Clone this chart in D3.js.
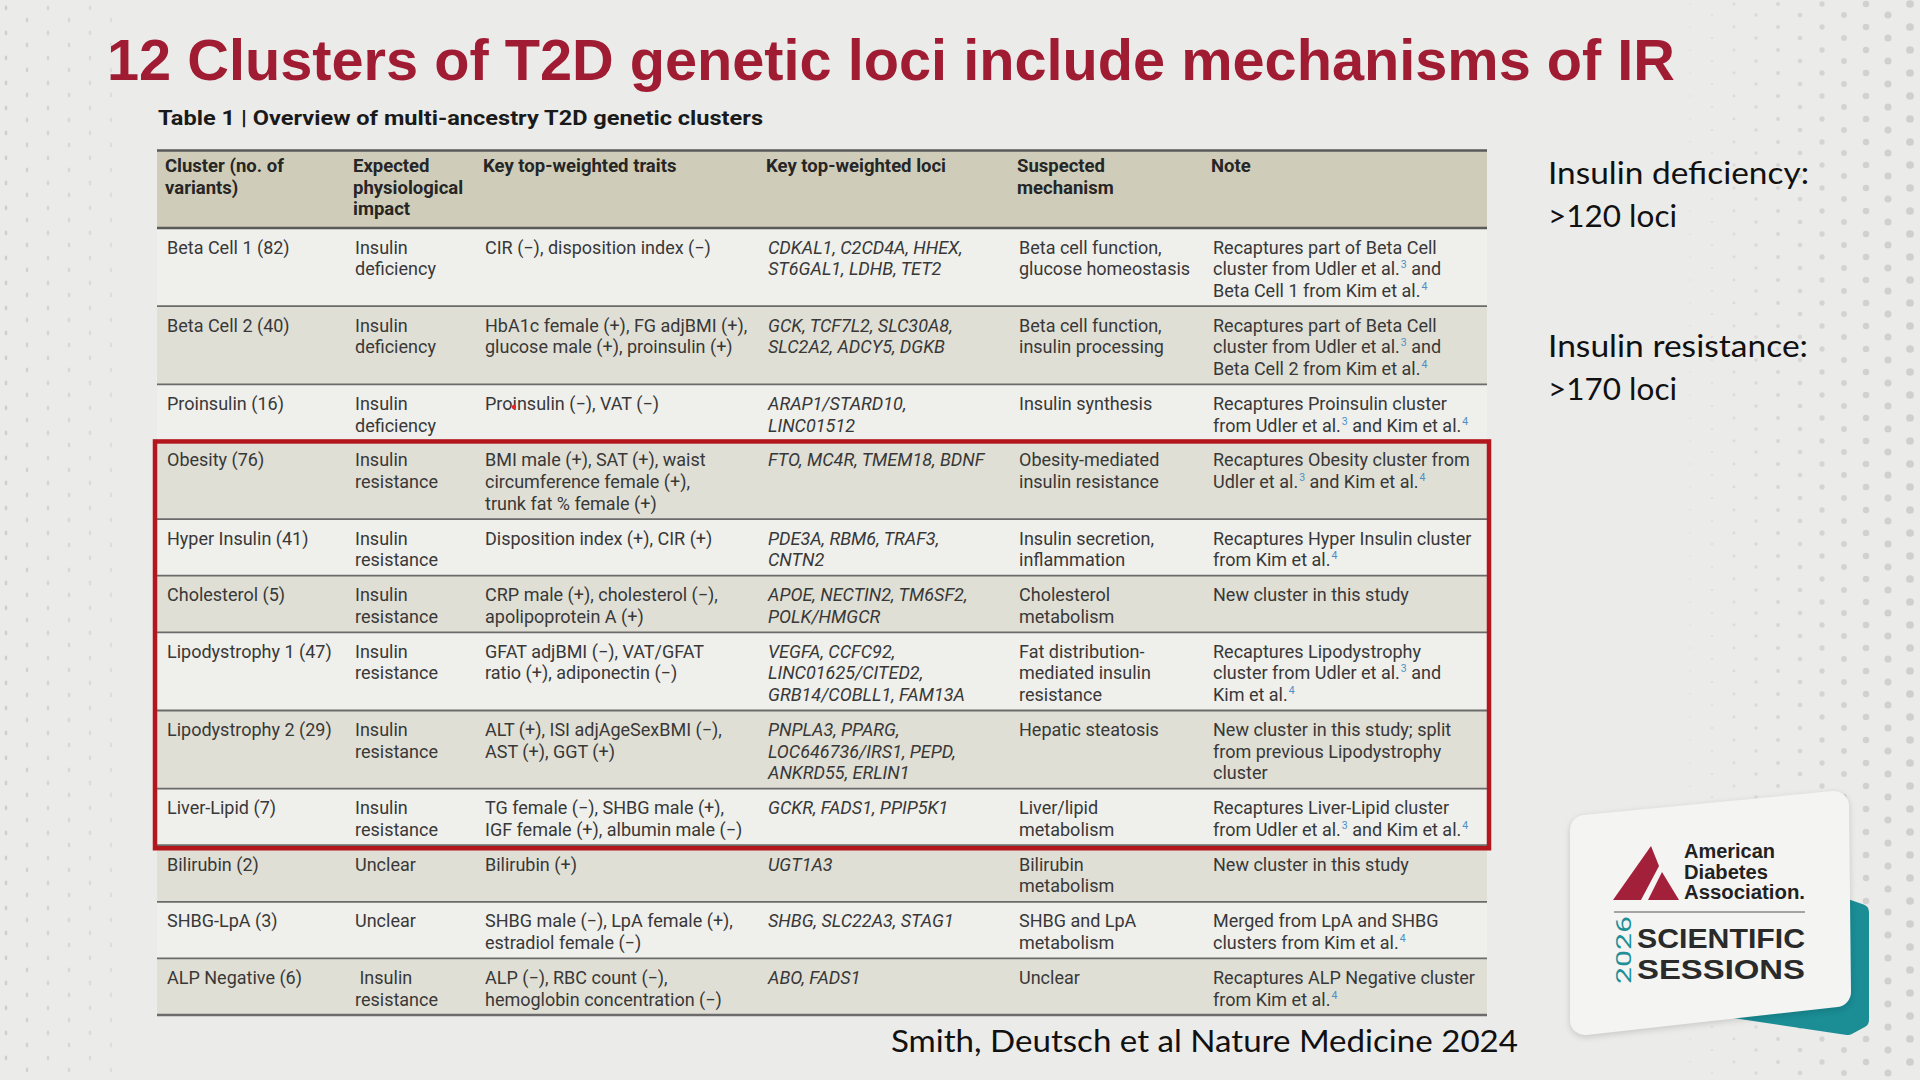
<!DOCTYPE html>
<html><head><meta charset="utf-8">
<script src="https://cdn.jsdelivr.net/npm/d3@7"></script>
<style>
html,body{margin:0;padding:0;background:#ebebe9;overflow:hidden;}
svg{display:block;}
</style></head><body>
<svg id="c" width="1920" height="1080"></svg>
<script>
// ---------- data ----------
const title = "12 Clusters of T2D genetic loci include mechanisms of IR";
const tableTitle = "Table 1 | Overview of multi-ancestry T2D genetic clusters";
const headers = ["Cluster (no. of\nvariants)", "Expected\nphysiological\nimpact", "Key top-weighted traits", "Key top-weighted loci", "Suspected\nmechanism", "Note"];
const clusters = ["Beta Cell 1 (82)", "Beta Cell 2 (40)", "Proinsulin (16)", "Obesity (76)", "Hyper Insulin (41)", "Cholesterol (5)", "Lipodystrophy 1 (47)", "Lipodystrophy 2 (29)", "Liver-Lipid (7)", "Bilirubin (2)", "SHBG-LpA (3)", "ALP Negative (6)"];
const impacts = ["Insulin\ndeficiency", "Insulin\ndeficiency", "Insulin\ndeficiency", "Insulin\nresistance", "Insulin\nresistance", "Insulin\nresistance", "Insulin\nresistance", "Insulin\nresistance", "Insulin\nresistance", "Unclear", "Unclear", "\u00a0Insulin\nresistance"];
const traits = [
  "CIR (−), disposition index (−)",
  "HbA1c female (+), FG adjBMI (+),\nglucose male (+), proinsulin (+)",
  "Proinsulin (−), VAT (−)",
  "BMI male (+), SAT (+), waist\ncircumference female (+),\ntrunk fat % female (+)",
  "Disposition index (+), CIR (+)",
  "CRP male (+), cholesterol (−),\napolipoprotein A (+)",
  "GFAT adjBMI (−), VAT/GFAT\nratio (+), adiponectin (−)",
  "ALT (+), ISI adjAgeSexBMI (−),\nAST (+), GGT (+)",
  "TG female (−), SHBG male (+),\nIGF female (+), albumin male (−)",
  "Bilirubin (+)",
  "SHBG male (−), LpA female (+),\nestradiol female (−)",
  "ALP (−), RBC count (−),\nhemoglobin concentration (−)"
];
const loci = [
  "CDKAL1, C2CD4A, HHEX,\nST6GAL1, LDHB, TET2",
  "GCK, TCF7L2, SLC30A8,\nSLC2A2, ADCY5, DGKB",
  "ARAP1/STARD10,\nLINC01512",
  "FTO, MC4R, TMEM18, BDNF",
  "PDE3A, RBM6, TRAF3,\nCNTN2",
  "APOE, NECTIN2, TM6SF2,\nPOLK/HMGCR",
  "VEGFA, CCFC92,\nLINC01625/CITED2,\nGRB14/COBLL1, FAM13A",
  "PNPLA3, PPARG,\nLOC646736/IRS1, PEPD,\nANKRD55, ERLIN1",
  "GCKR, FADS1, PPIP5K1",
  "UGT1A3",
  "SHBG, SLC22A3, STAG1",
  "ABO, FADS1"
];
const mechanisms = [
  "Beta cell function,\nglucose homeostasis",
  "Beta cell function,\ninsulin processing",
  "Insulin synthesis",
  "Obesity-mediated\ninsulin resistance",
  "Insulin secretion,\ninflammation",
  "Cholesterol\nmetabolism",
  "Fat distribution-\nmediated insulin\nresistance",
  "Hepatic steatosis",
  "Liver/lipid\nmetabolism",
  "Bilirubin\nmetabolism",
  "SHBG and LpA\nmetabolism",
  "Unclear"
];
const notes = [
  "Recaptures part of Beta Cell\ncluster from Udler et al.^3 and\nBeta Cell 1 from Kim et al.^4",
  "Recaptures part of Beta Cell\ncluster from Udler et al.^3 and\nBeta Cell 2 from Kim et al.^4",
  "Recaptures Proinsulin cluster\nfrom Udler et al.^3 and Kim et al.^4",
  "Recaptures Obesity cluster from\nUdler et al.^3 and Kim et al.^4",
  "Recaptures Hyper Insulin cluster\nfrom Kim et al.^4",
  "New cluster in this study",
  "Recaptures Lipodystrophy\ncluster from Udler et al.^3 and\nKim et al.^4",
  "New cluster in this study; split\nfrom previous Lipodystrophy\ncluster",
  "Recaptures Liver-Lipid cluster\nfrom Udler et al.^3 and Kim et al.^4",
  "New cluster in this study",
  "Merged from LpA and SHBG\nclusters from Kim et al.^4",
  "Recaptures ALP Negative cluster\nfrom Kim et al.^4"
];
const rowShade = ["light","dark","light","dark","light","dark","light","dark","light","dark","light","dark"];
const highlighted = ["Obesity (76)", "Hyper Insulin (41)", "Cholesterol (5)", "Lipodystrophy 1 (47)", "Lipodystrophy 2 (29)", "Liver-Lipid (7)"];
const sideNotes = [["Insulin deficiency:", ">120 loci"], ["Insulin resistance:", ">170 loci"]];
const citation = "Smith, Deutsch et al Nature Medicine 2024";
const logoLines = ["American", "Diabetes", "Association."];
const logoEvent = ["SCIENTIFIC", "SESSIONS"];
const logoYear = "2026";

// ---------- drawing ----------
const svg = d3.select("#c");
const W = 1920, H = 1080;
svg.append("rect").attr("width", W).attr("height", H).attr("fill", "#ebebe9");

// decorative dot texture at the edges
const deco = svg.append("g");
const leftDots = [];
d3.range(0, 6).forEach(ci => d3.range(0, 44).forEach(ri => {
  leftDots.push({x: 6 + ci * 21, y: 8 + ri * 25 + (ci % 2) * 12, k: 1 - ci / 6});
}));
deco.selectAll(".ld").data(leftDots).join("ellipse")
  .attr("cx", d => d.x).attr("cy", d => d.y)
  .attr("rx", 1.3).attr("ry", 2.4)
  .attr("fill", "#c4c4c2").attr("opacity", d => 0.25 + 0.5 * d.k);
const rightDots = [];
d3.range(0, 11).forEach(ci => d3.range(0, 48).forEach(ri => {
  const x = 1690 + ci * 22, y = 4 + ri * 23 + (ci % 2) * 11;
  rightDots.push({x, y, k: (x - 1690) / 230});
}));
deco.selectAll(".rd").data(rightDots).join("circle")
  .attr("cx", d => d.x).attr("cy", d => d.y)
  .attr("r", d => 0.8 + 3.2 * d.k)
  .attr("fill", "#c6c6c4").attr("opacity", d => 0.35 + 0.45 * d.k);

// title
svg.append("text").attr("x", 107).attr("y", 80)
  .attr("font-family", "'Liberation Sans', Arial, sans-serif")
  .attr("font-weight", "bold").attr("font-size", 58)
  .attr("fill", "#a01c32")
  .attr("textLength", 1568).attr("lengthAdjust", "spacingAndGlyphs")
  .text(title);

svg.append("text").attr("x", 158).attr("y", 125)
  .attr("font-family", "Roboto, 'Liberation Sans', sans-serif")
  .attr("font-weight", "bold").attr("font-size", 21)
  .attr("fill", "#1a1a1a")
  .attr("textLength", 605).attr("lengthAdjust", "spacingAndGlyphs")
  .text(tableTitle);

// table geometry
const tableX0 = 157, tableX1 = 1487;
const headerTop = 150.5, headerBottom = 228, tableBottom = 1015;
const colX = d3.scaleOrdinal().domain(d3.range(6)).range([167, 355, 485, 768, 1019, 1213]);
const columns = [clusters, impacts, traits, loci, mechanisms, notes];
const rows = clusters.map((c, i) => ({
  i, cells: columns.map(col => col[i]), shade: rowShade[i],
  nLines: d3.max(columns, col => col[i].split("\n").length)
}));
const pad = 0.62;
let acc = 0;
rows.forEach(r => { r.u0 = acc; acc += r.nLines + pad; r.u1 = acc; });
const yScale = d3.scaleLinear().domain([0, acc]).range([headerBottom, tableBottom]);
const LH = 21.7;

const tbl = svg.append("g");
// header background
tbl.append("rect").attr("x", tableX0).attr("y", headerTop).attr("width", tableX1 - tableX0)
  .attr("height", headerBottom - headerTop).attr("fill", "#cfcdb9");
// row backgrounds
tbl.selectAll(".rowbg").data(rows).join("rect")
  .attr("x", tableX0).attr("width", tableX1 - tableX0)
  .attr("y", d => yScale(d.u0)).attr("height", d => yScale(d.u1) - yScale(d.u0))
  .attr("fill", d => d.shade === "dark" ? "#e0dfd5" : "#efefec");

function writeLines(g, str, x, y0, attrs) {
  const t = g.append("text");
  Object.entries(attrs).forEach(([k, v]) => t.attr(k, v));
  str.split("\n").forEach((line, li) => {
    const parts = line.split(/\^(\d)/);
    let afterSup = false;
    parts.forEach((p, j) => {
      if (j % 2 === 0) {
        if (!p) return;
        const ts = t.append("tspan").text(p);
        if (j === 0) ts.attr("x", x).attr("y", y0 + li * LH);
        else if (afterSup) ts.attr("dy", 7);
        afterSup = false;
      } else {
        t.append("tspan").text(p).attr("dy", -7).attr("dx", 1)
          .attr("font-size", 10.5).attr("fill", "#4a8fc6").attr("font-style", "normal");
        afterSup = true;
      }
    });
  });
  return t;
}

// header text
headers.forEach((h, ci) => {
  writeLines(tbl, h, colX(ci) - 2, headerTop + 21.5, {
    "font-family": "Roboto, sans-serif", "font-weight": "bold", "font-size": 18.5, fill: "#262626"
  });
});
// body text
rows.forEach(r => {
  r.cells.forEach((c, ci) => {
    writeLines(tbl, c, colX(ci), yScale(r.u0) + 25.5, {
      "font-family": "Roboto, sans-serif", "font-size": 18, fill: "#383838",
      "font-style": ci === 3 ? "italic" : "normal"
    });
  });
});

// rules
tbl.append("line").attr("x1", tableX0).attr("x2", tableX1).attr("y1", headerTop).attr("y2", headerTop)
  .attr("stroke", "#5a5a5a").attr("stroke-width", 2.5);
tbl.append("line").attr("x1", tableX0).attr("x2", tableX1).attr("y1", headerBottom).attr("y2", headerBottom)
  .attr("stroke", "#5a5a5a").attr("stroke-width", 2.5);
tbl.selectAll(".rule").data(rows).join("line")
  .attr("x1", tableX0).attr("x2", tableX1)
  .attr("y1", d => yScale(d.u1)).attr("y2", d => yScale(d.u1))
  .attr("stroke", "#6b6b6b").attr("stroke-width", d => d.i === rows.length - 1 ? 2.5 : 1.8);

// red highlight box
const hiRows = rows.filter(r => highlighted.includes(clusters[r.i]));
const hy0 = yScale(d3.min(hiRows, r => r.u0)), hy1 = yScale(d3.max(hiRows, r => r.u1));
tbl.append("rect").attr("x", 155).attr("y", hy0 + 0.5).attr("width", 1489 - 155).attr("height", hy1 - hy0 + 2.5)
  .attr("fill", "none").attr("stroke", "#b3161d").attr("stroke-width", 4.5);

// laser pointer dot
svg.append("circle").attr("cx", 514).attr("cy", 407).attr("r", 2.2).attr("fill", "#e8262b");

// side notes
const sideY = [184, 357];
sideNotes.forEach((pair, k) => {
  pair.forEach((line, li) => {
    svg.append("text").attr("x", 1548).attr("y", sideY[k] + li * 43)
      .attr("font-family", "Lato, 'Open Sans', sans-serif").attr("font-size", 31)
      .attr("fill", "#111")
      .attr("textLength", li === 0 ? (k === 0 ? 261 : 260) : 129)
      .attr("lengthAdjust", "spacingAndGlyphs")
      .text(line);
  });
});

// citation
svg.append("text").attr("x", 891).attr("y", 1052)
  .attr("font-family", "Lato, 'Open Sans', sans-serif").attr("font-size", 31)
  .attr("fill", "#111")
  .attr("textLength", 627).attr("lengthAdjust", "spacingAndGlyphs")
  .text(citation);

// ADA logo card
const logo = svg.append("g");
const lineGen = d3.line().curve(d3.curveLinearClosed);
logo.append("path")
  .attr("d", lineGen([[1700, 1005], [1832, 902], [1861, 912], [1861, 1020], [1848, 1027]]))
  .attr("fill", "#1a8d95").attr("stroke", "#1a8d95").attr("stroke-width", 16).attr("stroke-linejoin", "round");
logo.append("path")
  .attr("d", lineGen([[1585, 830], [1834, 806], [1836, 992], [1585, 1020]]))
  .attr("fill", "#f4f4f3").attr("stroke", "#f4f4f3").attr("stroke-width", 30).attr("stroke-linejoin", "round")
  .attr("filter", "drop-shadow(0px 2px 3px rgba(0,0,0,0.15))");
logo.append("path")
  .attr("d", lineGen([[1651, 846], [1613, 900], [1641, 900], [1659, 866]]))
  .attr("fill", "#a3203a");
logo.append("path")
  .attr("d", lineGen([[1662, 872], [1648, 900], [1679, 900]]))
  .attr("fill", "#a3203a");
const logoBase = [858, 879, 899];
const logoW = [91, 84, 121];
logoLines.forEach((t, i) => {
  logo.append("text").attr("x", 1684).attr("y", logoBase[i])
    .attr("font-family", "'Liberation Sans', Arial, sans-serif").attr("font-weight", "bold")
    .attr("font-size", 20).attr("fill", "#222")
    .attr("textLength", logoW[i]).attr("lengthAdjust", "spacingAndGlyphs").text(t);
});
logo.append("line").attr("x1", 1614).attr("x2", 1805).attr("y1", 912).attr("y2", 912)
  .attr("stroke", "#8a8a8a").attr("stroke-width", 1.5);
const evBase = [948, 979];
logoEvent.forEach((t, i) => {
  logo.append("text").attr("x", 1637).attr("y", evBase[i])
    .attr("font-family", "'Liberation Sans', Arial, sans-serif").attr("font-weight", "bold")
    .attr("font-size", 28).attr("fill", "#2a2a2a")
    .attr("textLength", 168).attr("lengthAdjust", "spacingAndGlyphs").text(t);
});
logo.append("text").attr("transform", "translate(1631,984) rotate(-90)")
  .attr("font-family", "Roboto, sans-serif").attr("font-size", 20).attr("fill", "#1f8f98")
  .attr("textLength", 68).attr("lengthAdjust", "spacingAndGlyphs").text(logoYear);
</script>
</body></html>
